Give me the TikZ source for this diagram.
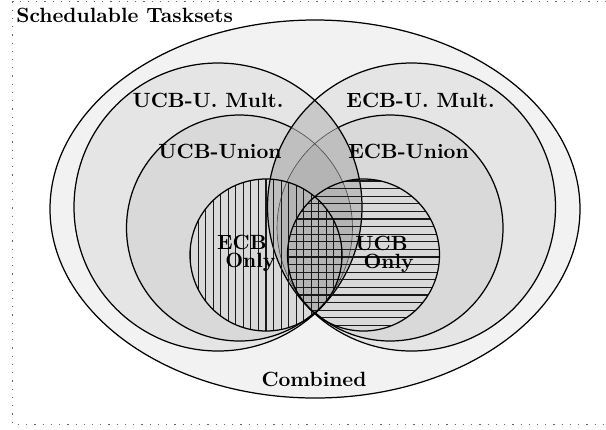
\documentclass[tikz,border=0pt]{standalone}
\usetikzlibrary{calc}
\definecolor{cComb}{gray}{0.95}
\definecolor{cMult}{gray}{0.90}
\definecolor{cUnion}{gray}{0.85}
\definecolor{cLens}{gray}{0.79}
\definecolor{cLensA}{gray}{0.75}
\definecolor{cLensB}{gray}{0.705}
\begin{document}
\begin{tikzpicture}[x=0.4854pt,y=-0.4854pt,
  bord/.style={line width=0.6pt,draw=black},
  thinbord/.style={line width=0.3pt,draw=black!70},
  hatch/.style={line width=0.5pt,draw=black!90},
  framestyle/.style={line width=0.6pt,draw=black!60,dash pattern=on 0.6pt off 3.4pt},
  lbl/.style={font=\bfseries,inner sep=0pt},
  lbltwo/.style={font=\bfseries\fontsize{10}{8.6}\selectfont,inner sep=0pt,align=left,anchor=north west}]
\useasboundingbox (0,0) rectangle (606,429);
% frame
\coordinate (fTR) at (606,1.5);
\coordinate (fBL) at (12.5,424.5);
\coordinate (fBR) at (606,424.5);
\draw[framestyle] (fTR) -| (fBL) -- (fBR);
% centres
\coordinate (combC) at (315,209);
\coordinate (umL) at (218,207);
\coordinate (umR) at (411.5,207);
\coordinate (unL) at (239.5,228);
\coordinate (unR) at (390,228);
\coordinate (onL) at (266,255);
\coordinate (onR) at (363.5,255);
% combined
\fill[cComb] (combC) ellipse [x radius=265, y radius=189];
\draw[bord] (combC) ellipse [x radius=265, y radius=189];
% fills
\fill[cMult] (umL) circle [radius=144];
\fill[cMult] (umR) circle [radius=144];
\fill[cUnion] (unL) circle [radius=113];
\fill[cUnion] (unR) circle [radius=113];
\draw[bord] (unL) circle [radius=113];
\draw[bord] (unR) circle [radius=113];
% lens
\begin{scope}
  \clip (umL) circle [radius=144];
  \clip (umR) circle [radius=144];
  \fill[cLens] (umL) circle [radius=150];
  \fill[cLensA] (unL) circle [radius=113];
  \fill[cLensA] (unR) circle [radius=113];
  \begin{scope}
    \clip (unL) circle [radius=113];
    \fill[cLensB] (unR) circle [radius=113];
  \end{scope}
  \draw[thinbord] (unL) circle [radius=113];
  \draw[thinbord] (unR) circle [radius=113];
\end{scope}
\draw[bord] (umL) circle [radius=144];
\draw[bord] (umR) circle [radius=144];
% hatching
\begin{scope}
  \clip (onL) circle [radius=76];
  \foreach \k in {-11,...,11}
    \draw[hatch] ($(onL)+({7.55*(\k)},-80)$) -- ($(onL)+({7.55*(\k)},80)$);
\end{scope}
\begin{scope}
  \clip (onR) circle [radius=76];
  \foreach \k in {-11,...,11}
    \draw[hatch] ($(onR)+(-80,{7.6*(\k)+2})$) -- ($(onR)+(80,{7.6*(\k)+2})$);
\end{scope}
\draw[bord] (onL) circle [radius=76];
\draw[bord] (onR) circle [radius=76];
% labels
\node[lbl,anchor=base west] (title) at (16,22.5) {Schedulable Tasksets};
\node[lbl,anchor=base] (tUM) at (208,107) {UCB-U. Mult.};
\node[lbl,anchor=base] (tUU) at (220,158) {UCB-Union};
\node[lbl,anchor=base] (tEM) at (420.5,107) {ECB-U. Mult.};
\node[lbl,anchor=base] (tEU) at (408.5,158) {ECB-Union};
\node[lbl,anchor=base] (tC) at (314,386) {Combined};
\node[lbltwo] (tEO) at (216.7,235) {ECB\\\hspace*{4pt}Only};
\node[lbltwo] (tUO) at (355,236) {UCB\\\hspace*{4pt}Only};
\end{tikzpicture}
\end{document}
